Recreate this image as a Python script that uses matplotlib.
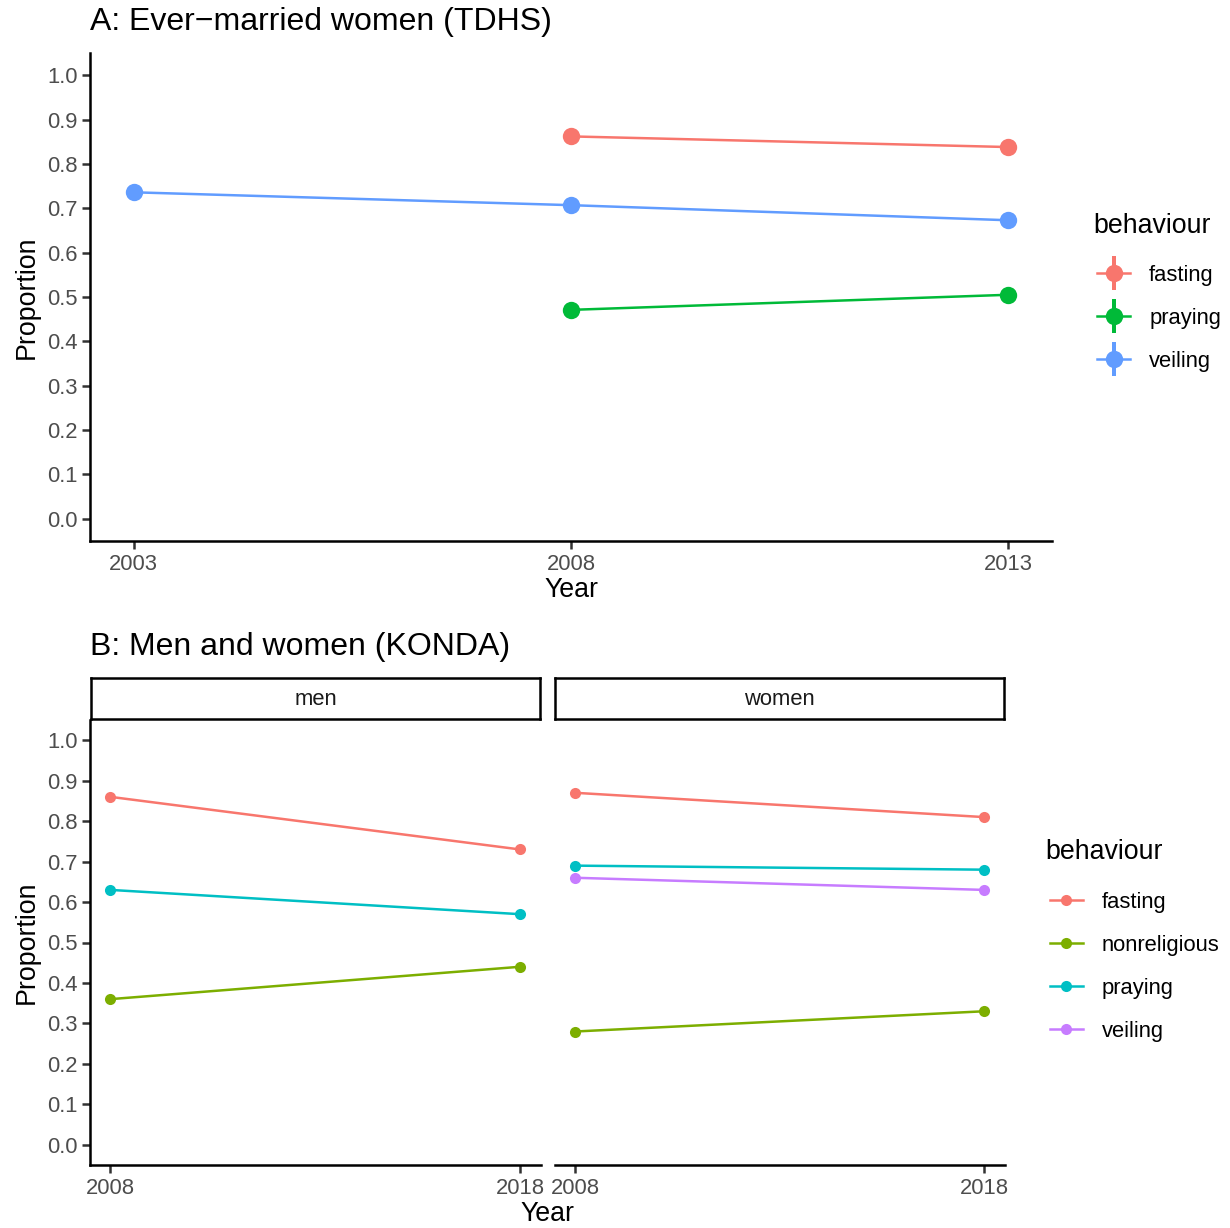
import matplotlib
matplotlib.use('Agg')
import matplotlib.pyplot as plt
from matplotlib.lines import Line2D
from matplotlib.legend_handler import HandlerTuple
import numpy as np

plt.rcParams['font.family'] = ['Liberation Sans', 'DejaVu Sans']

W, H = 1230, 1228

# panel A: TDHS, ever-married women
tdhs_behaviour = ['fasting', 'praying', 'veiling']
tdhs_years = {'fasting': [2008, 2013], 'praying': [2008, 2013], 'veiling': [2003, 2008, 2013]}
tdhs_prop = {'fasting': [0.862, 0.838], 'praying': [0.471, 0.505], 'veiling': [0.736, 0.707, 0.673]}
tdhs_cols = {'fasting': '#F8766D', 'praying': '#00BA38', 'veiling': '#619CFF'}

# panel B: KONDA, men and women
konda_behaviour = ['fasting', 'nonreligious', 'praying', 'veiling']
konda_years = [2008, 2018]
konda_men = {'fasting': [0.86, 0.73], 'nonreligious': [0.36, 0.44], 'praying': [0.63, 0.57]}
konda_women = {'fasting': [0.87, 0.81], 'nonreligious': [0.28, 0.33], 'praying': [0.69, 0.68],
               'veiling': [0.66, 0.63]}
konda_cols = {'fasting': '#F8766D', 'nonreligious': '#7CAE00', 'praying': '#00BFC4', 'veiling': '#C77CFF'}

yticks = np.round(np.arange(0, 1.01, 0.1), 1)

TICK = 15.8
AXT = 19.3
TTL = 23
LW = 1.8
GREY30 = '#4D4D4D'


def box(l, t, r, b):
    return [l / W, 1 - b / H, (r - l) / W, (b - t) / H]


def style(ax, left=True):
    for s in ['top', 'right']:
        ax.spines[s].set_visible(False)
    ax.spines['bottom'].set_linewidth(LW)
    ax.spines['left'].set_linewidth(LW)
    ax.tick_params(colors='#333333', labelcolor=GREY30, labelsize=TICK, width=LW, length=6, pad=3)
    ax.set_ylim(-0.05, 1.05)
    ax.set_yticks(yticks)
    if left:
        ax.set_yticklabels(['%.1f' % v for v in yticks])
    else:
        ax.spines['left'].set_visible(False)
        ax.tick_params(axis='y', left=False, labelleft=False)


fig = plt.figure(figsize=(W / 100, H / 100), dpi=100)

# ---------- A ----------
axA = fig.add_axes(box(90, 53, 1052, 541))
for b in tdhs_behaviour:
    axA.plot(tdhs_years[b], tdhs_prop[b], color=tdhs_cols[b], lw=LW, marker='o', ms=12.5,
             markeredgewidth=0, solid_capstyle='butt')
style(axA)
axA.set_xlim(2002.5, 2013.5)
axA.set_xticks([2003, 2008, 2013])
axA.set_xlabel('Year', fontsize=AXT, labelpad=2)
axA.set_ylabel('Proportion', fontsize=AXT, labelpad=5)
fig.text(90 / W, 1 - 22 / H, 'A: Ever\u2212married women (TDHS)', fontsize=TTL, va='center', ha='left')

hA = []
for b in tdhs_behaviour:
    h1 = Line2D([], [], color=tdhs_cols[b], lw=LW, marker='o', ms=12.5, markeredgewidth=0)
    h2 = Line2D([], [], color=tdhs_cols[b], lw=0, marker='|', ms=24, markeredgewidth=LW * 1.6)
    hA.append((h2, h1))
legA = fig.legend(hA, tdhs_behaviour, loc='upper left', bbox_to_anchor=(1093 / W, 1 - 213 / H),
                  frameon=False, fontsize=TICK, title='behaviour', title_fontsize=AXT,
                  handler_map={tuple: HandlerTuple(ndivide=1)}, handlelength=1.5,
                  handletextpad=0.87, labelspacing=1.0, borderpad=0, borderaxespad=0)
legA._legend_box.align = 'left'
legA._legend_handle_box.pad = 3.0

# ---------- B ----------
axM = fig.add_axes(box(90, 720, 540.5, 1165))
axF = fig.add_axes(box(555, 720, 1004.5, 1165))
for ax, dat in [(axM, konda_men), (axF, konda_women)]:
    for b in konda_behaviour:
        if b in dat:
            ax.plot(konda_years, dat[b], color=konda_cols[b], lw=LW, marker='o', ms=8,
                    markeredgewidth=0)
    ax.set_xlim(2007.5, 2018.5)
    ax.set_xticks(konda_years)
style(axM)
style(axF, left=False)
axM.set_ylabel('Proportion', fontsize=AXT, labelpad=5)
fig.text(547 / W, 1 - 1214 / H, 'Year', fontsize=AXT, ha='center', va='center')
fig.text(90 / W, 1 - 647 / H, 'B: Men and women (KONDA)', fontsize=TTL, va='center', ha='left')

for (l, r), lab in [((91, 540), 'men'), ((555, 1004), 'women')]:
    sa = fig.add_axes(box(l, 678, r, 719))
    sa.set_xticks([])
    sa.set_yticks([])
    for s in sa.spines.values():
        s.set_linewidth(LW)
        s.set_color('black')
    sa.text(0.5, 0.48, lab, fontsize=TICK, color='#1A1A1A', ha='center', va='center',
            transform=sa.transAxes)

hB = [Line2D([], [], color=konda_cols[b], lw=LW, marker='o', ms=8, markeredgewidth=0)
      for b in konda_behaviour]
legB = fig.legend(hB, konda_behaviour, loc='upper left', bbox_to_anchor=(1045 / W, 1 - 839 / H),
                  frameon=False, fontsize=TICK, title='behaviour', title_fontsize=AXT,
                  handlelength=1.5, handletextpad=0.87, labelspacing=1.0, borderpad=0,
                  borderaxespad=0)
legB._legend_box.align = 'left'
legB._legend_handle_box.pad = 3.4

fig.savefig('out.png', dpi=100)
